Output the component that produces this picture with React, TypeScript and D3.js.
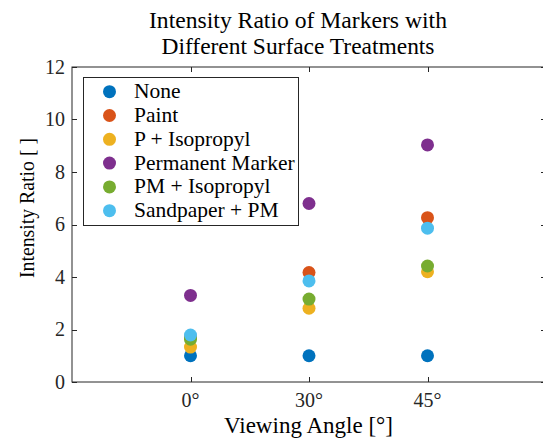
import React, { useEffect, useRef } from 'react';
import * as d3 from 'd3';

const angles = ['0°', '30°', '45°'];
const seriesNames = ['None', 'Paint', 'P + Isopropyl', 'Permanent Marker', 'PM + Isopropyl', 'Sandpaper + PM'];
const noneValues = [1.0, 1.0, 1.0];
const paintValues = [1.7, 4.17, 6.26];
const pIsoValues = [1.33, 2.81, 4.2];
const pmValues = [3.3, 6.8, 9.03];
const pmIsoValues = [1.63, 3.16, 4.42];
const sandValues = [1.79, 3.85, 5.86];
const yTicks = [0, 2, 4, 6, 8, 10, 12];
const colors = ['#0072BD', '#D95319', '#EDB120', '#7E2F8E', '#77AC30', '#4DBEEE'];

const App = () => {
    const svgRef = useRef<SVGSVGElement>(null);

    useEffect(() => {
        const svg = d3.select(svgRef.current);
        svg.selectAll('*').remove();

        const width = 543;
        const height = 440;
        const left = 72, right = 546, top = 67, bottom = 382;
        const font = '"Liberation Serif", "DejaVu Serif", serif';
        const axisColor = '#262626';

        const allSeries = [noneValues, paintValues, pIsoValues, pmValues, pmIsoValues, sandValues];

        const x = d3.scaleLinear().domain([0, 4]).range([left, right]);
        const y = d3.scaleLinear().domain([0, 12]).range([bottom, top]);

        svg.attr('width', width).attr('height', height);

        // box
        svg.append('rect')
            .attr('x', left).attr('y', top)
            .attr('width', right - left).attr('height', bottom - top)
            .attr('fill', 'white')
            .attr('stroke', axisColor)
            .attr('stroke-width', 1);

        // x ticks (bottom and top, pointing in)
        const xt = svg.append('g');
        angles.forEach((a, i) => {
            const px = Math.round(x(i + 1)) + 0.5;
            xt.append('line').attr('x1', px).attr('x2', px).attr('y1', bottom).attr('y2', bottom - 5)
                .attr('stroke', axisColor);
            xt.append('line').attr('x1', px).attr('x2', px).attr('y1', top).attr('y2', top + 5)
                .attr('stroke', axisColor);
            xt.append('text')
                .attr('x', x(i + 1)).attr('y', 406.5)
                .attr('text-anchor', 'middle')
                .style('font-family', font).style('font-size', '20px')
                .attr('fill', axisColor)
                .text(a);
        });

        // y ticks
        const yt = svg.append('g');
        yTicks.forEach((t) => {
            const py = Math.round(y(t)) + 0.5;
            yt.append('line').attr('x1', left).attr('x2', left + 5).attr('y1', py).attr('y2', py)
                .attr('stroke', axisColor);
            yt.append('line').attr('x1', right).attr('x2', right - 5).attr('y1', py).attr('y2', py)
                .attr('stroke', axisColor);
            yt.append('text')
                .attr('x', 65).attr('y', y(t) + 6.5)
                .attr('text-anchor', 'end')
                .style('font-family', font).style('font-size', '20px')
                .attr('fill', axisColor)
                .text(t);
        });

        // points
        allSeries.forEach((vals, s) => {
            svg.append('g').selectAll('circle')
                .data(vals)
                .enter()
                .append('circle')
                .attr('cx', (d, i) => x(i + 1))
                .attr('cy', (d) => y(d))
                .attr('r', 6.5)
                .attr('fill', colors[s]);
        });

        // legend
        const lg = svg.append('g');
        lg.append('rect')
            .attr('x', 83.5).attr('y', 77.5)
            .attr('width', 215).attr('height', 148)
            .attr('fill', 'white')
            .attr('stroke', axisColor)
            .attr('stroke-width', 1);
        seriesNames.forEach((name, i) => {
            const cy = 91.7 + i * 23.8;
            lg.append('circle').attr('cx', 109.5).attr('cy', cy).attr('r', 6.5).attr('fill', colors[i]);
            lg.append('text')
                .attr('x', 134).attr('y', cy + 6.5)
                .style('font-family', font).style('font-size', '21.5px')
                .attr('fill', 'black')
                .text(name);
        });

        // title
        const title = svg.append('text')
            .attr('text-anchor', 'middle')
            .style('font-family', font).style('font-size', '23px')
            .attr('fill', 'black');
        title.append('tspan').attr('x', 298).attr('y', 27.5)
            .attr('textLength', 298).attr('lengthAdjust', 'spacingAndGlyphs')
            .text('Intensity Ratio of Markers with');
        title.append('tspan').attr('x', 298).attr('y', 54)
            .attr('textLength', 273).attr('lengthAdjust', 'spacingAndGlyphs')
            .text('Different Surface Treatments');

        // axis labels
        svg.append('text')
            .attr('x', 308.5).attr('y', 433)
            .attr('text-anchor', 'middle')
            .attr('textLength', 169).attr('lengthAdjust', 'spacingAndGlyphs')
            .style('font-family', font).style('font-size', '22.5px')
            .attr('fill', 'black')
            .text('Viewing Angle [°]');

        svg.append('text')
            .attr('transform', 'translate(34,208) rotate(-90)')
            .attr('text-anchor', 'middle')
            .attr('textLength', 140).attr('lengthAdjust', 'spacingAndGlyphs')
            .style('font-family', font).style('font-size', '22px')
            .attr('fill', 'black')
            .text('Intensity Ratio [ ]');
    }, []);

    return (
        <div style={{ position: 'absolute', left: 0, top: 0, width: 543, height: 440, overflow: 'hidden', background: 'white' }}>
            <svg ref={svgRef} width={543} height={440} />
        </div>
    );
};

export default App;
